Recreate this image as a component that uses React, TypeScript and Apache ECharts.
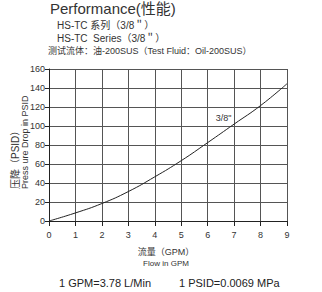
import React, { useEffect, useRef } from "react";
import * as echarts from "echarts";

const flowGPM = [0, 1, 2, 3, 4, 5, 6, 7, 8, 9];
const pressureDrop = [0, 8.5, 18.4, 31, 46.5, 63.5, 82.5, 102, 121.5, 144.5];
const curveLabel = "3/8\"";
const curveLabelPos = [6.6, 108];

const FONT = "'Liberation Sans', 'Noto Sans CJK SC', sans-serif";

export default function App() {
  const ref = useRef<HTMLDivElement>(null);
  useEffect(() => {
    const chart = echarts.init(ref.current!, undefined, { renderer: "svg" });
    chart.setOption({
      animation: false,
      backgroundColor: "#ffffff",
      textStyle: { fontFamily: FONT },
      grid: { left: 49, right: 35, top: 69, bottom: 71 },
      xAxis: {
        type: "value",
        min: 0,
        max: 9,
        interval: 1,
        axisLine: { show: true, lineStyle: { color: "#222", width: 1 } },
        axisTick: { show: true, length: 5, lineStyle: { color: "#222" } },
        axisLabel: { color: "#333", fontSize: 9, margin: 9, fontFamily: FONT },
        splitLine: { show: true, lineStyle: { color: "#555", width: 1 } },
      },
      yAxis: {
        type: "value",
        min: 0,
        max: 160,
        interval: 20,
        axisLine: { show: true, lineStyle: { color: "#222", width: 1 } },
        axisTick: { show: true, length: 4, lineStyle: { color: "#222" } },
        axisLabel: { color: "#333", fontSize: 9, margin: 4, fontFamily: FONT },
        splitLine: { show: true, lineStyle: { color: "#555", width: 1 } },
      },
      series: [
        {
          type: "line",
          data: flowGPM.map((x, i) => [x, pressureDrop[i]]),
          smooth: true,
          showSymbol: false,
          lineStyle: { color: "#222", width: 1 },
          markPoint: {
            symbol: "circle",
            symbolSize: 0,
            label: {
              show: true,
              formatter: curveLabel,
              color: "#333",
              fontSize: 9,
              fontFamily: FONT,
            },
            data: [{ coord: curveLabelPos }],
          },
        },
      ],
      graphic: [
        {
          type: "text",
          left: 50,
          top: 1,
          style: { text: "Performance(性能)", fill: "#333", font: `15px ${FONT}` },
        },
        {
          type: "text",
          left: 57,
          top: 20,
          style: { text: "HS-TC 系列（3/8＂）", fill: "#333", font: `10px ${FONT}` },
        },
        {
          type: "text",
          left: 57,
          top: 33,
          style: { text: "HS-TC  Series（3/8＂）", fill: "#333", font: `10px ${FONT}` },
        },
        {
          type: "text",
          left: 48,
          top: 46,
          style: { text: "测试流体：油-200SUS（Test Fluid：Oil-200SUS）", fill: "#333", font: `9px ${FONT}` },
        },
        {
          type: "text",
          x: 15,
          y: 189,
          rotation: Math.PI / 2,
          style: { text: "压降（PSID）", fill: "#333", font: `10px ${FONT}`, align: "left", verticalAlign: "middle" },
        },
        {
          type: "text",
          x: 25,
          y: 189,
          rotation: Math.PI / 2,
          style: { text: "Press ure Drop in PSID", fill: "#333", font: `9px ${FONT}`, align: "left", verticalAlign: "middle" },
        },
        {
          type: "text",
          x: 166,
          y: 252,
          style: { text: "流量（GPM）", fill: "#333", font: `9px ${FONT}`, align: "center", verticalAlign: "middle" },
        },
        {
          type: "text",
          x: 166,
          y: 263,
          style: { text: "Flow in GPM", fill: "#333", font: `8px ${FONT}`, align: "center", verticalAlign: "middle" },
        },
        {
          type: "text",
          x: 59,
          y: 283,
          style: { text: "1 GPM=3.78 L/Min", fill: "#222", font: `11px ${FONT}`, align: "left", verticalAlign: "middle" },
        },
        {
          type: "text",
          x: 179,
          y: 283,
          style: { text: "1 PSID=0.0069 MPa", fill: "#222", font: `11px ${FONT}`, align: "left", verticalAlign: "middle" },
        },
      ],
    });
    return () => chart.dispose();
  }, []);
  return <div ref={ref} style={{ width: 322, height: 292, position: "absolute", left: 0, top: 0 }} />;
}
